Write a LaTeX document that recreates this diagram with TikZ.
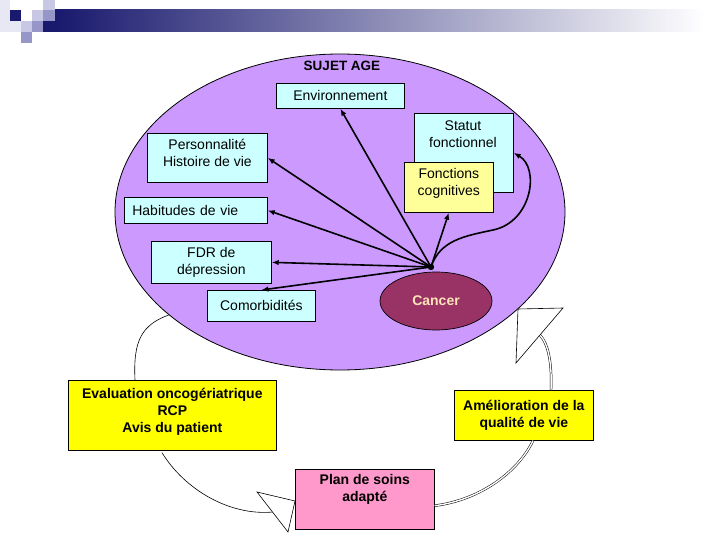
\documentclass[tikz,border=0pt]{standalone}
\usepackage{fontspec}
\setmainfont{Liberation Sans}
\usetikzlibrary{shapes.geometric,arrows.meta,calc}
\definecolor{lav}{RGB}{204,153,255}
\definecolor{cyanbox}{RGB}{204,255,255}
\definecolor{lyel}{RGB}{255,255,153}
\definecolor{yel}{RGB}{255,255,0}
\definecolor{pinkbox}{RGB}{255,153,204}
\definecolor{maroon}{RGB}{153,51,102}
\definecolor{cantext}{RGB}{255,228,185}
\definecolor{navy}{RGB}{25,25,110}
\definecolor{sqpale}{RGB}{232,232,244}
\definecolor{sqlight}{RGB}{200,200,228}
\definecolor{sqmed}{RGB}{150,150,200}
\tikzset{
  txt/.style={font=\fontsize{14pt}{17pt}\selectfont, align=center},
  boxbase/.style={txt, draw=black, line width=0.7pt, anchor=north west, inner sep=0pt},
  cbox/.style={boxbase, fill=cyanbox},
  ybox/.style={boxbase, fill=lyel},
  bbox/.style={boxbase, fill=yel, font=\fontsize{14pt}{17pt}\selectfont\bfseries},
  pbox/.style={boxbase, fill=pinkbox, font=\fontsize{14pt}{17pt}\selectfont\bfseries},
  arr/.style={line width=1.6pt, -{Latex[length=7pt,width=5.5pt]}},
  thinloop/.style={line width=0.6pt},
  dbl/.style={double, double distance=1.4pt, line width=0.5pt},
  tri/.style={draw=black, line width=0.6pt, fill=white, line join=miter}
}
\begin{document}
\begin{tikzpicture}[x=1pt,y=-1pt]
\useasboundingbox (0,0) rectangle (720,540);
% header decoration
\shade[left color=navy, right color=white] (55,10) rectangle (705,32);
\fill[sqpale] (0,0) rectangle (10,10);
\fill[sqlight] (43,0) rectangle (55,10);
\fill[sqpale] (0,10) rectangle (10,21);
\fill[navy] (10,10) rectangle (21,21);
\fill[sqlight] (32,10) rectangle (43,21);
\fill[sqmed] (43,10) rectangle (55,21);
\fill[sqpale] (0,21) rectangle (21,32);
\fill[sqlight] (21,21) rectangle (32,32);
\fill[sqmed] (32,21) rectangle (43,32);
\fill[navy] (43,21) rectangle (55,32);
\fill[sqmed] (21,32) rectangle (32,43);
% big ellipse
\node[ellipse, draw=black, line width=0.8pt, fill=lav, minimum width=450pt, minimum height=316pt, inner sep=0pt] (sujet) at (340,212) {};
\node[txt, font=\fontsize{13.5pt}{16pt}\selectfont\bfseries] (sujettxt) at (342,66) {SUJET AGE};
% boxes
\node[cbox, minimum width=128pt, minimum height=25pt] (env) at (276,83) {Environnement};
\node[cbox, minimum width=99pt, minimum height=79pt] (statut) at (414,113) {};
\node[txt] (statuttxt) at (463,134) {Statut\\fonctionnel};
\node[ybox, minimum width=89pt, minimum height=50pt, text depth=10pt] (fonc) at (404,162) {Fonctions\\cognitives};
\node[cbox, minimum width=120pt, minimum height=49pt, text depth=10pt] (pers) at (147,133) {Personnalit\'e\\Histoire de vie};
\node[cbox, text width=127pt, align=left, inner xsep=8pt, minimum height=26pt] (hab) at (124,197) {Habitudes de vie};
\node[cbox, minimum width=120pt, minimum height=42pt] (fdr) at (151,241) {FDR de\\d\'epression};
\node[cbox, minimum width=108pt, minimum height=31pt] (comor) at (207,290) {Comorbidit\'es};
\node[ellipse, draw=black, line width=0.7pt, fill=maroon, minimum width=112pt, minimum height=58pt, inner sep=0pt, text=cantext, font=\fontsize{14pt}{17pt}\selectfont\bfseries] (cancer) at (436,301) {Cancer};
% hub and arrows
\coordinate (hub) at (431,267);
\draw[arr] (hub) -- (env.south);
\draw[arr] (hub) -- (pers.east);
\draw[arr] (hub) -- (hab.east);
\draw[arr] (hub) -- (fdr.east);
\draw[arr] (hub) -- (comor.north);
\draw[arr] (hub) -- (fonc.south);
\draw[arr] (hub) .. controls (440,240) and (465,236) .. (493,230) .. controls (532,222) and (540,168) .. (statut.east);
\fill (hub) circle (3.2pt);
% lower boxes
\node[bbox, minimum width=208pt, minimum height=70pt, text depth=10pt] (eval) at (68,380) {Evaluation oncog\'eriatrique\\RCP\\Avis du patient};
\node[bbox, minimum width=139pt, minimum height=50pt] (amel) at (454,390) {Am\'elioration de la\\qualit\'e de vie};
\node[pbox, minimum width=139pt, minimum height=60pt] (plan) at (295,469) {Plan de soins\\adapt\'e\\\strut};
% loop connectors
\draw[thinloop] ($(eval.north west)+(67,0)$) .. controls (133,340) and (142,325) .. (sujet.211);
\coordinate (t1) at (273,512);
\draw[thinloop] ($(eval.south west)+(94,2)$) .. controls (185,490) and (230,516) .. (t1);
\draw[tri] (257,492) -- (295,501) -- (288,532) -- cycle;
\draw[dbl] ($(plan.south east)+(0,-24)$) .. controls (480,500) and (518,472) .. ($(amel.south west)+(79,0)$);
\coordinate (t2) at (540,335);
\draw[dbl] ($(amel.north west)+(97,0)$) .. controls (552,365) and (549,345) .. (t2);
\draw[tri] (518,309) -- (563,308) -- (516,363) -- cycle;
\end{tikzpicture}
\end{document}
